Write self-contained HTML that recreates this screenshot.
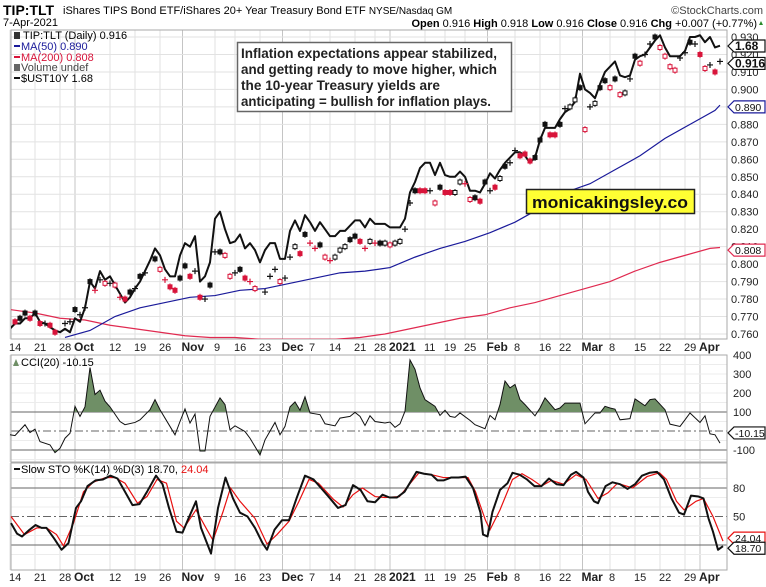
<!DOCTYPE html>
<html><head><meta charset="utf-8"><style>
html,body{margin:0;padding:0;background:#fff;}
svg{display:block;font-family:"Liberation Sans",sans-serif;}
</style></head><body>
<svg id="chart" width="766" height="587" viewBox="0 0 766 587" xmlns="http://www.w3.org/2000/svg">
<g>
<text x="3" y="15" font-size="14" font-weight="bold">TIP:TLT</text>
<text x="63" y="14" font-size="11">iShares TIPS Bond ETF/iShares 20+ Year Treasury Bond ETF <tspan font-size="10">NYSE/Nasdaq GM</tspan></text>
<text x="763" y="14" font-size="11" text-anchor="end" fill="#444">©StockCharts.com</text>
<text x="3" y="26" font-size="11">7-Apr-2021</text>
<text x="757" y="27" font-size="11" text-anchor="end"><tspan font-weight="bold">Open</tspan> 0.916 <tspan font-weight="bold">High</tspan> 0.918 <tspan font-weight="bold">Low</tspan> 0.916 <tspan font-weight="bold">Close</tspan> 0.916 <tspan font-weight="bold">Chg</tspan> +0.007 (+0.77%)</text>
<polygon points="759,25 763,25 761,21" fill="#2a8a2a"/>
</g>
<g id="grid"></g>
<g id="main"></g>
<g id="cci"></g>
<g id="sto"></g>
<g id="overlay"></g>
</svg>
<script>
// ---------- data ----------
const ust10y = [0.763,0.766,0.766,0.769,0.769,0.772,0.767,0.766,0.764,0.762,0.761,0.763,0.761,0.769,0.767,0.775,0.790,0.786,0.796,0.791,0.793,0.788,0.783,0.778,0.781,0.786,0.790,0.796,0.802,0.809,0.805,0.797,0.793,0.793,0.805,0.812,0.810,0.816,0.790,0.793,0.801,0.826,0.830,0.820,0.812,0.813,0.817,0.809,0.812,0.808,0.801,0.808,0.812,0.812,0.803,0.803,0.819,0.825,0.819,0.828,0.824,0.819,0.824,0.820,0.816,0.816,0.819,0.819,0.822,0.825,0.825,0.821,0.826,0.823,0.823,0.823,0.821,0.821,0.821,0.826,0.841,0.847,0.855,0.858,0.858,0.851,0.858,0.851,0.850,0.850,0.853,0.850,0.842,0.842,0.841,0.846,0.852,0.849,0.854,0.858,0.861,0.864,0.864,0.862,0.858,0.861,0.871,0.878,0.878,0.878,0.883,0.887,0.889,0.893,0.909,0.900,0.898,0.895,0.903,0.910,0.913,0.916,0.908,0.907,0.908,0.917,0.919,0.920,0.924,0.928,0.931,0.924,0.919,0.919,0.919,0.922,0.930,0.930,0.931,0.927,0.930,0.924,0.925];
const closes = [null,0.767,0.769,0.772,0.769,0.772,0.766,0.766,0.765,0.761,null,0.766,0.767,0.774,0.771,0.775,0.790,0.785,0.791,0.789,0.789,0.788,0.781,0.780,0.784,0.786,0.793,0.795,null,0.803,0.797,0.791,0.787,0.785,0.792,0.799,0.793,0.796,0.781,0.780,0.788,0.807,0.807,0.805,0.793,0.795,0.797,0.792,0.790,0.786,null,0.784,0.793,0.797,0.790,0.792,0.804,0.810,0.806,0.817,0.812,0.809,0.811,0.804,0.802,0.804,0.808,0.810,0.814,0.816,0.813,0.809,0.813,0.812,0.812,0.812,0.811,0.812,0.813,0.820,0.835,0.842,0.842,0.842,0.842,0.835,0.844,0.841,0.841,0.841,0.847,0.846,0.837,0.838,0.836,0.847,0.842,0.844,0.849,0.856,0.858,0.865,0.862,0.863,0.859,0.861,0.871,0.880,0.874,0.874,0.880,0.889,0.890,0.894,0.901,0.877,0.890,0.892,0.901,0.905,0.901,0.906,0.897,0.898,0.906,0.919,0.915,0.920,0.926,0.930,0.924,0.919,0.913,0.911,0.918,0.921,0.927,0.926,0.920,0.912,0.914,0.910,0.916];
const candleTypes = "-,r,k,k,r,k,r,x,r,r,-,x,x,k,x,x,k,rx,x,rh,x,rh,rx,r,k,x,k,x,-,k,rh,rx,r,r,k,k,r,x,r,x,k,x,k,rh,rh,x,k,r,rx,rh,-,x,x,x,rh,x,x,h,r,k,rx,rx,k,rh,rx,h,h,h,k,k,r,rx,h,rx,k,h,rh,h,h,x,x,k,r,r,x,rh,k,r,r,h,h,rx,rh,k,r,k,x,r,h,k,x,x,r,r,r,k,k,k,r,r,k,x,h,h,k,rh,x,h,k,k,rh,k,rh,h,x,k,rh,x,x,k,rh,rh,rh,rh,x,x,k,x,r,rh,x,r,x".split(",");
const ma50Start = 11;
const ma50 = [0.758,0.762,0.770,0.775,0.778,0.781,0.782,0.785,0.786,0.789,0.792,0.795,0.796,0.798,0.804,0.809,0.813,0.818,0.824,0.832,0.841,0.846,0.854,0.862,0.872,0.880,0.888,0.891];
const ma200 = [0.774,0.772,0.769,0.768,0.765,0.763,0.761,0.759,0.758,0.758,0.757,0.757,0.757,0.757,0.758,0.760,0.763,0.766,0.769,0.771,0.775,0.778,0.782,0.786,0.790,0.796,0.801,0.805,0.809];
const ma200End = 0.8095;
const priceTicks = [0.760,0.770,0.780,0.790,0.800,0.810,0.820,0.830,0.840,0.850,0.860,0.870,0.880,0.890,0.900,0.910,0.920,0.930];
const cciDays = [0,1,3,4,5,6,8,9,10,11,12,13,14,15,16,17,18,19,20,22,23,25,26,28,29,30,32,33,34,35,36,37,38,39,40,42,43,44,45,47,48,50,51,53,54,55,56,57,58,59,60,62,63,65,66,68,69,70,71,72,73,75,76,77,78,79,80,81,82,83,85,86,87,88,89,90,92,93,95,96,97,98,99,100,101,102,103,105,106,107,109,110,111,113,114,115,117,118,119,120,121,122,124,125,127,128,129,131,132,134,135,136,138,139,140,141,142];
const cciVals = [-20,-24,33,-8,10,-56,-73,-114,-91,-38,-12,130,77,127,334,192,215,157,127,50,33,45,59,112,165,112,24,-20,50,116,42,89,-105,-105,77,174,139,6,27,-3,-38,-126,-47,45,-20,24,127,153,109,180,95,86,38,27,68,77,98,77,29,80,50,42,47,19,38,104,374,325,227,165,130,82,109,77,72,95,56,33,12,82,59,139,263,227,245,165,139,80,121,174,112,121,147,147,147,38,95,95,130,121,115,59,65,169,133,165,169,112,36,24,59,95,45,80,-15,-20,-64,-10];
const cciTicks = [400,300,200,100,-100];
const kDays = [0.2,1.4,2.4,3.9,5.1,6.3,7.3,8.8,10.3,11.7,13.2,14.2,15.5,17.1,18.6,20.1,21.5,23,24.5,25.9,27.4,29.2,30.5,31.8,33.3,34.5,35.7,37.2,38.2,40.2,41.6,43.1,44.6,46,47.5,49,50.5,51.4,52.9,54.4,55.8,57.3,59,60.7,62.2,63.7,65.6,67.1,68.6,70.1,71.5,73,74.5,75.9,77.4,78.9,80.4,81.3,82.8,84.3,85.5,86.7,88.2,89.7,91.1,92.6,94.1,94.6,95.5,96.5,98,99.5,100.5,101.9,103.4,104.9,106.3,107.8,109.3,110.7,112.2,113.2,114.7,115.6,116.8,117.6,119.1,120.5,122,123.5,125,126.4,127.9,129.4,130.8,132.3,133.8,134.8,136.2,137.7,138.7,139.7,140.6,141.6,142.6];
const kVals = [43,32,29,36,41,38,38,27,15,22,59,66,82,88,89,93,90,76,62,63,76,93,84,59,34,33,48,66,38,11,59,91,69,54,50,38,22,15,36,46,46,69,93,89,80,71,59,62,83,78,66,65,73,70,70,76,89,97,95,94,88,88,91,91,92,80,54,31,29,55,78,85,96,94,89,82,82,90,84,83,94,97,91,76,66,64,82,86,84,79,84,93,96,97,89,69,54,52,72,71,69,48,34,15,18.7];
const dDays = [0.2,2.9,5.4,7.3,9.3,10.7,12.7,14.7,16.6,19.1,21,23,25.5,27.4,29.4,31.3,33.3,34.8,37.2,39.2,40.6,42.6,44.1,46,49,51.4,53.4,55.8,57.8,59.8,61.7,64.7,66.6,68.6,70.5,73,75,77.9,79.9,81.8,84.3,86.7,89.7,91.6,93.1,95.1,96,98,100.5,102.4,104.4,106.3,108.3,110.7,113.2,115.2,117.6,119.6,121.5,124.5,127.4,129.9,131.3,133.3,134.8,137.2,138.7,140.6,142.6];
const dVals = [50,31,38,38,31,19,43,76,86,91,91,85,64,71,89,85,45,38,57,38,25,55,80,66,48,21,31,45,66,89,85,68,60,73,80,71,70,71,84,96,94,91,91,91,76,46,36,57,89,95,89,82,88,84,94,89,69,75,85,80,92,96,89,66,57,66,69,50,24.04];
const stoTicks = [80,50];
const dateDays = [0,5,10,13,20,25,30,34.5,41,45,50,54.5,60,64,69,73,76,83,87,91,95.5,101,106,110,114.5,120,125,130,135,138];
const dateLabels = ["14","21","28","Oct","12","19","26","Nov","9","16","23","Dec","7","14","21","28","2021","11","19","25","Feb","8","16","22","Mar","8","15","22","29","Apr"];
const monthLabels = ["Oct","Nov","Dec","2021","Feb","Mar","Apr"];

// ---------- scales ----------
const L = 11, R = 727;
const X = d => 10 + d * 5;
const YP = v => 37 + (0.930 - v) * 1747;
const YC = v => 431 - v * 0.19;
const YS = v => 488 + (80 - v) * 0.95;
const NS = "http://www.w3.org/2000/svg";
function mk(tag, attrs, parent) {
  const e = document.createElementNS(NS, tag);
  for (const k in attrs) e.setAttribute(k, attrs[k]);
  parent.appendChild(e);
  return e;
}
const RED = "#d8143a", BLUE = "#1a1a9a", MA2 = "#e02a50";
const grid = document.getElementById("grid");
const main = document.getElementById("main");
const cci = document.getElementById("cci");
const sto = document.getElementById("sto");
const ov = document.getElementById("overlay");

const panels = [[30, 339], [355, 462], [463, 570]];
panels.forEach(([t, b]) => {
  dateDays.forEach((d, i) => {
    const isM = monthLabels.includes(dateLabels[i]);
    const ln = mk("line", {x1: X(d), x2: X(d), y1: t, y2: b, stroke: isM ? "#c4c4c4" : "#e2e2e2", "stroke-width": 1}, grid);
    
    
  });
});
priceTicks.forEach(v => {
  const ln = mk("line", {x1: L, x2: R, y1: YP(v), y2: YP(v), stroke: "#e2e2e2"}, grid);
  
  
  const t = mk("text", {x: 731, y: YP(v) + 4, "font-size": 11, fill: "#222"}, grid);
  t.textContent = v.toFixed(3);
  
  
});
[300, 200, 350, 250, 150, 50, -50, -150].forEach(v => {
  const ln = mk("line", {x1: L, x2: R, y1: YC(v), y2: YC(v), stroke: "#ececec"}, grid);
  
  
});
cciTicks.forEach(v => {
  const t = mk("text", {x: 733, y: YC(v) + 4, "font-size": 11, fill: "#222"}, grid);
  t.textContent = v;
  
  
});
[[100, "none"], [-100, "none"], [0, "8,3,2,3"]].forEach(([v, da]) => {
  const ln = mk("line", {x1: L, x2: R, y1: YC(v), y2: YC(v), stroke: "#666", "stroke-dasharray": da}, grid);
  
  
});
[90, 70, 60, 40, 30, 10].forEach(v => {
  const ln = mk("line", {x1: L, x2: R, y1: YS(v), y2: YS(v), stroke: "#ececec"}, grid);
  
  
});
[[80, "none"], [20, "none"], [50, "8,3,2,3"]].forEach(([v, da]) => {
  const ln = mk("line", {x1: L, x2: R, y1: YS(v), y2: YS(v), stroke: "#666", "stroke-dasharray": da}, grid);
  
  
});
stoTicks.forEach(v => {
  const t = mk("text", {x: 733, y: YS(v) + 4, "font-size": 11, fill: "#222"}, grid);
  t.textContent = v;
  
  
});
panels.forEach(([t, b]) => {
  const r = mk("rect", {x: L, y: t, width: R - L, height: b - t, fill: "none", stroke: "#aaa"}, grid);
  
  
});
[351, 581].forEach(yy => {
  dateDays.forEach((d, i) => {
    const isM = monthLabels.includes(dateLabels[i]);
    const t = mk("text", {x: X(d) - 1, y: yy, "font-size": isM ? 12 : 11, "font-weight": isM ? "bold" : "normal", fill: "#222"}, grid);
    t.textContent = dateLabels[i];
    
    
  });
});

// ---------- main price panel ----------
const clip = mk("clipPath", {id: "mainclip"}, main);
mk("rect", {x: L, y: 30, width: R - L, height: 309}, clip);
const mg = mk("g", {"clip-path": "url(#mainclip)"}, main);
let pts = ma200.map((v, i) => X(i * 5) + "," + YP(v)).join(" ") + " " + X(142) + "," + YP(ma200End);
let pl = mk("polyline", {points: pts, fill: "none", stroke: MA2, "stroke-width": 1.2}, mg);


pts = ma50.map((v, i) => X(Math.min(ma50Start + i * 5, 142)) + "," + YP(v)).join(" ");
pl = mk("polyline", {points: pts, fill: "none", stroke: BLUE, "stroke-width": 1.2}, mg);


pts = ust10y.map((v, i) => X(i) + "," + YP(v)).join(" ");
pl = mk("polyline", {points: pts, fill: "none", stroke: "#111", "stroke-width": 2, "stroke-linejoin": "round"}, mg);


closes.forEach((v, i) => {
  if (v === null) return;
  const ty = candleTypes[i];
  const cx = X(i), cy = YP(v);
  const col = ty.startsWith("r") ? RED : "#111";
  let el;
  if (ty === "x" || ty === "rx") {
    el = mk("path", {d: `M${cx - 3},${cy}H${cx + 3}M${cx},${cy - 3}V${cy + 3}`, stroke: col, "stroke-width": 1.2, fill: "none"}, mg);
  } else {
    const hollow = ty === "h" || ty === "rh";
    mk("line", {x1: cx, x2: cx, y1: cy - 3.5, y2: cy + 3.5, stroke: col}, mg);
    el = mk("rect", {x: cx - 2, y: cy - 2, width: 4, height: 4, fill: hollow ? "#fff" : col, stroke: col, "stroke-width": 1}, mg);
  }
  
  
});

// ---------- CCI ----------
const cpts = cciDays.map((d, i) => [X(d), YC(cciVals[i])]);
const cclipU = mk("clipPath", {id: "cciUp"}, cci);
mk("rect", {x: L, y: 355, width: R - L, height: YC(100) - 355}, cclipU);
const cclipD = mk("clipPath", {id: "cciDn"}, cci);
mk("rect", {x: L, y: YC(-100), width: R - L, height: 462 - YC(-100)}, cclipD);
const lineStr = cpts.map(p => p.join(",")).join(" ");
let ar = mk("polygon", {points: `${cpts[0][0]},${YC(100)} ${lineStr} ${cpts[cpts.length - 1][0]},${YC(100)}`, fill: "#6f8f66", "clip-path": "url(#cciUp)"}, cci);


ar = mk("polygon", {points: `${cpts[0][0]},${YC(-100)} ${lineStr} ${cpts[cpts.length - 1][0]},${YC(-100)}`, fill: "#6f8f66", "clip-path": "url(#cciDn)"}, cci);


pl = mk("polyline", {points: lineStr, fill: "none", stroke: "#111", "stroke-width": 1}, cci);



// ---------- Slow STO ----------
pl = mk("polyline", {points: dDays.map((d, i) => X(d) + "," + YS(dVals[i])).join(" "), fill: "none", stroke: "#e81010", "stroke-width": 1.2}, sto);


pl = mk("polyline", {points: kDays.map((d, i) => X(d) + "," + YS(kVals[i])).join(" "), fill: "none", stroke: "#111", "stroke-width": 2, "stroke-linejoin": "round"}, sto);



// ---------- tags ----------
function tag(y, txt, col, bold, name) {
  const g = mk("g", {}, ov);
  
  
  mk("polygon", {points: `728,${y} 734,${y - 6} 765,${y - 6} 765,${y + 6} 734,${y + 6}`, fill: "#fff", stroke: col, "stroke-width": 1.2}, g);
  const t = mk("text", {x: 735, y: y + 4, "font-size": bold ? 12 : 10.5, "font-weight": bold ? "bold" : "normal", fill: "#111"}, g);
  t.textContent = txt;
}
tag(YS(24.04) - 3, "24.04", "#e81010", false, "sto-d-value-tag");
tag(YS(18.7) + 2, "18.70", "#111", false, "sto-k-value-tag");
tag(YC(-10.15), "-10.15", "#111", false, "cci-value-tag");
tag(YP(0.808), "0.808", MA2, false, "ma200-value-tag");
tag(YP(0.890), "0.890", BLUE, false, "ma50-value-tag");
tag(46, "1.68", "#111", true, "ust10y-value-tag");
tag(YP(0.916) + 2, "0.916", "#111", true, "price-value-tag");
</script>
<svg style="position:absolute;left:0;top:0" width="766" height="587">
<g font-family="Liberation Sans, sans-serif" font-size="11">
<g><text x="23" y="39">TIP:TLT (Daily) 0.916</text><rect x="14" y="32" width="6" height="7" fill="#333"/></g>
<g><rect x="14" y="45" width="6" height="2" fill="#1a1a9a"/><text x="21" y="50" fill="#1a1a9a">MA(50) 0.890</text></g>
<g><rect x="14" y="56" width="6" height="2" fill="#d8143a"/><text x="21" y="61" fill="#d8143a">MA(200) 0.808</text></g>
<g><rect x="14" y="64" width="6" height="7" fill="#666"/><text x="21" y="71" fill="#444">Volume undef</text></g>
<g><rect x="14" y="77" width="6" height="2" fill="#111"/><text x="21" y="82">$UST10Y 1.68</text></g>
<g><polygon points="13,366 16,359 19,366" fill="#6f8f66"/><text x="21" y="366">CCI(20) -10.15</text></g>
<g><rect x="14" y="468" width="6" height="2" fill="#111"/><text x="21" y="473">Slow STO %K(14) %D(3) 18.70, <tspan fill="#e81010">24.04</tspan></text></g>
</g>
<g>
<rect x="237.5" y="42.5" width="274" height="69" fill="#fff" stroke="#666" stroke-width="1.5"/>
<g font-family="Liberation Sans, sans-serif" font-size="13.5" font-weight="bold" fill="#222">
<text x="241" y="58" textLength="256" lengthAdjust="spacingAndGlyphs">Inflation expectations appear stabilized,</text>
<text x="241" y="74" textLength="256" lengthAdjust="spacingAndGlyphs">and getting ready to move higher, which</text>
<text x="241" y="90" textLength="199" lengthAdjust="spacingAndGlyphs">the 10-year Treasury yields are</text>
<text x="241" y="106" textLength="250" lengthAdjust="spacingAndGlyphs">anticipating = bullish for inflation plays.</text>
</g></g>
<g>
<rect x="526.5" y="189.5" width="168" height="24" fill="#ffff33" stroke="#222" stroke-width="1.5"/>
<text x="610" y="208" text-anchor="middle" font-family="Liberation Sans, sans-serif" font-size="17" font-weight="bold" fill="#111" textLength="156" lengthAdjust="spacingAndGlyphs">monicakingsley.co</text>
</g>
</svg>
</body></html>
